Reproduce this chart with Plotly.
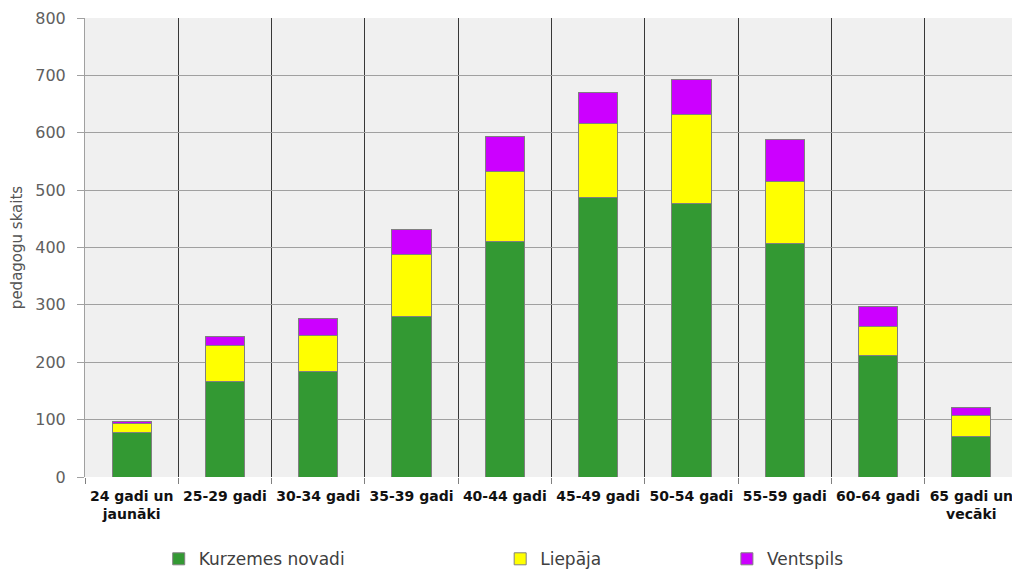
import plotly.graph_objects as go

categories = ["24 gadi un<br>jaunāki", "25-29 gadi", "30-34 gadi", "35-39 gadi", "40-44 gadi",
              "45-49 gadi", "50-54 gadi", "55-59 gadi", "60-64 gadi", "65 gadi un<br>vecāki"]
kurzemes = [78, 166, 184, 279, 410, 488, 477, 407, 211, 71]
liepaja = [15, 64, 62, 109, 122, 128, 154, 108, 52, 37]
ventspils = [3, 15, 31, 43, 61, 55, 62, 74, 35, 13]
y_ticks = [0, 100, 200, 300, 400, 500, 600, 700, 800]

series = [("Kurzemes novadi", kurzemes, "#339933", "legend"),
          ("Liepāja", liepaja, "#ffff00", "legend2"),
          ("Ventspils", ventspils, "#cc00ff", "legend3")]

FONT = "DejaVu Sans, Verdana, sans-serif"

fig = go.Figure()
for name, vals, color, lg in series:
    fig.add_trace(go.Bar(x=categories, y=vals, name=name, marker_color=color,
                         marker_line=dict(color="#808080", width=1), width=0.42,
                         legend=lg, showlegend=True))

def legend_at(x):
    return dict(orientation="h", yanchor="top", xanchor="left", x=x, y=-0.14,
                font=dict(family=FONT, size=17, color="#404040"),
                bgcolor="rgba(0,0,0,0)", itemwidth=30, visible=True)

fig.update_layout(
    barmode="stack",
    width=1012, height=562,
    margin=dict(l=77, r=2, t=10, b=93, autoexpand=False),
    paper_bgcolor="white",
    plot_bgcolor="#f0f0f0",
    font=dict(family=FONT, size=13, color="#555555"),
    showlegend=True,
    legend=legend_at(0.079),
    legend2=legend_at(0.445),
    legend3=legend_at(0.688),
    xaxis=dict(type="category", tickson="boundaries", showgrid=True, gridcolor="#383838",
               gridwidth=1, ticks="outside", ticklen=6, tickcolor="#808080",
               ticklabelstandoff=9,
               tickfont=dict(family=FONT, size=14, color="#111111", weight="bold"),
               tickangle=0, showline=False, zeroline=False, automargin=False),
    yaxis=dict(range=[0, 800], tickvals=y_ticks, showgrid=True, gridcolor="#a0a0a0",
               gridwidth=1, ticks="outside", ticklen=7, tickcolor="#a0a0a0",
               ticklabelstandoff=8,
               showline=True, linecolor="#a0a0a0", zeroline=False, automargin=False,
               tickfont=dict(family=FONT, size=16, color="#606060"),
               title=dict(text="pedagogu skaits", font=dict(family=FONT, size=15, color="#555555"),
                          standoff=10)),
)

fig.write_html("out.html")
